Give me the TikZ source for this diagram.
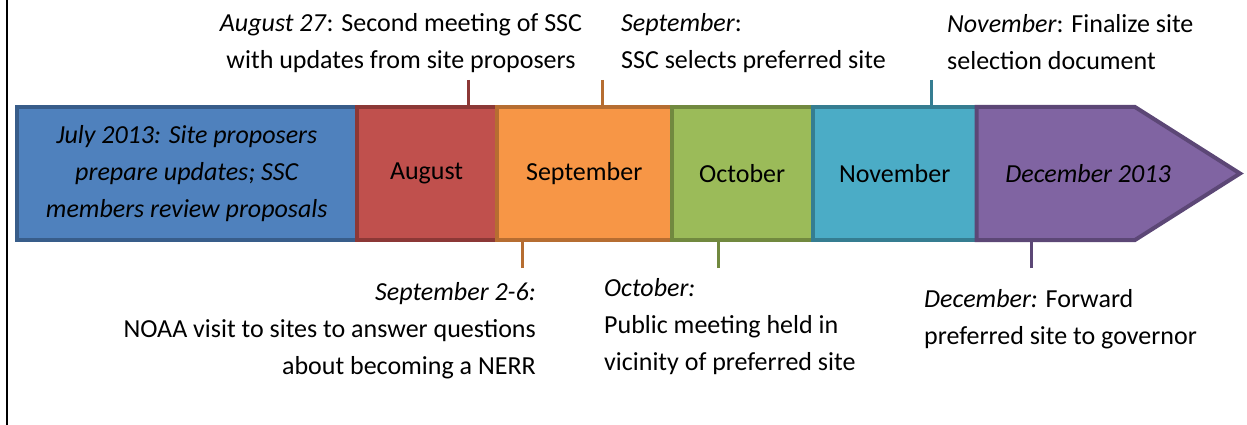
\documentclass[tikz,border=0pt]{standalone}
\usepackage{fontspec}
\setmainfont{Carlito}
\usepackage{tikz}
\usetikzlibrary{calc}
\definecolor{bluefill}{HTML}{4F81BD}
\definecolor{blueline}{HTML}{385D8A}
\definecolor{redfill}{HTML}{C0504D}
\definecolor{redline}{HTML}{8C3836}
\definecolor{orangefill}{HTML}{F79646}
\definecolor{orangeline}{HTML}{B66D31}
\definecolor{greenfill}{HTML}{9BBB59}
\definecolor{greenline}{HTML}{71893F}
\definecolor{tealfill}{HTML}{4BACC6}
\definecolor{tealline}{HTML}{357D91}
\definecolor{purplefill}{HTML}{8064A2}
\definecolor{purpleline}{HTML}{5C4776}
\tikzset{
monthbox/.style={draw,line width=4pt,minimum height=133pt,inner sep=0pt,outer sep=0pt,anchor=west,align=center,font=\fontsize{26}{37}\selectfont},
tickline/.style={line width=3pt},
notelabel/.style={inner sep=0pt,font=\fontsize{26}{37}\selectfont}
}

\begin{document}
\begin{tikzpicture}[x=1pt,y=-1pt]
\useasboundingbox (0,0) rectangle (1247,425);
\draw[line width=2pt] (7,0) -- (7,425);
% months
\node[monthbox,fill=bluefill,draw=blueline,minimum width=339.5pt] (jul) at (17,173.5) {\itshape July 2013: Site proposers\\\itshape prepare updates; SSC\\\itshape members review proposals};
\node[monthbox,fill=redfill,draw=redline,minimum width=140.2pt] (aug) at (jul.east) {August};
\node[monthbox,fill=orangefill,draw=orangeline,minimum width=175pt] (sep) at (aug.east) {September};
\node[monthbox,fill=greenfill,draw=greenline,minimum width=141pt] (oct) at (sep.east) {October};
\node[monthbox,fill=tealfill,draw=tealline,minimum width=164pt] (nov) at (oct.east) {November};
\draw[line width=4pt,fill=purplefill,draw=purpleline,line join=miter] (nov.north east) -- (1135,107) -- (1240,173.5) -- (1135,240) -- (nov.south east) -- cycle;
\node[notelabel] (dec) at (1088,173.5) {\itshape December 2013};
% notes above
\node[notelabel,align=center] (augnote) at (401,43) {\textit{August 27}: Second meeting of SSC\\with updates from site proposers};
\node[notelabel,align=left,anchor=west] (sepnote) at (621,43) {\textit{September}:\\SSC selects preferred site};
\node[notelabel,align=left,anchor=west] (novnote) at (947,42) {\textit{November}: Finalize site\\selection document};
% notes below
\node[notelabel,align=right,anchor=east] (visitnote) at (536,331) {\textit{September 2-6:}\\NOAA visit to sites to answer questions\\about becoming a NERR};
\node[notelabel,align=left,anchor=west] (octnote) at (604,327) {\textit{October:}\\Public meeting held in\\vicinity of preferred site};
\node[notelabel,align=left,anchor=west] (decnote) at (924,319) {\textit{December:} Forward\\preferred site to governor};
% ticks
\coordinate (augtick) at (468,80);
\coordinate (septick) at (602,80);
\coordinate (novtick) at (931,80);
\coordinate (visittick) at (522,268);
\coordinate (octtick) at (718,268);
\coordinate (dectick) at (1031,268);
\draw[tickline,draw=redline] (augtick) -- (augtick |- aug.north);
\draw[tickline,draw=orangeline] (septick) -- (septick |- sep.north);
\draw[tickline,draw=tealline] (novtick) -- (novtick |- nov.north);
\draw[tickline,draw=orangeline] (visittick) -- (visittick |- sep.south);
\draw[tickline,draw=greenline] (octtick) -- (octtick |- oct.south);
\draw[tickline,draw=purpleline] (dectick) -- (dectick |- nov.south);
\end{tikzpicture}
\end{document}
